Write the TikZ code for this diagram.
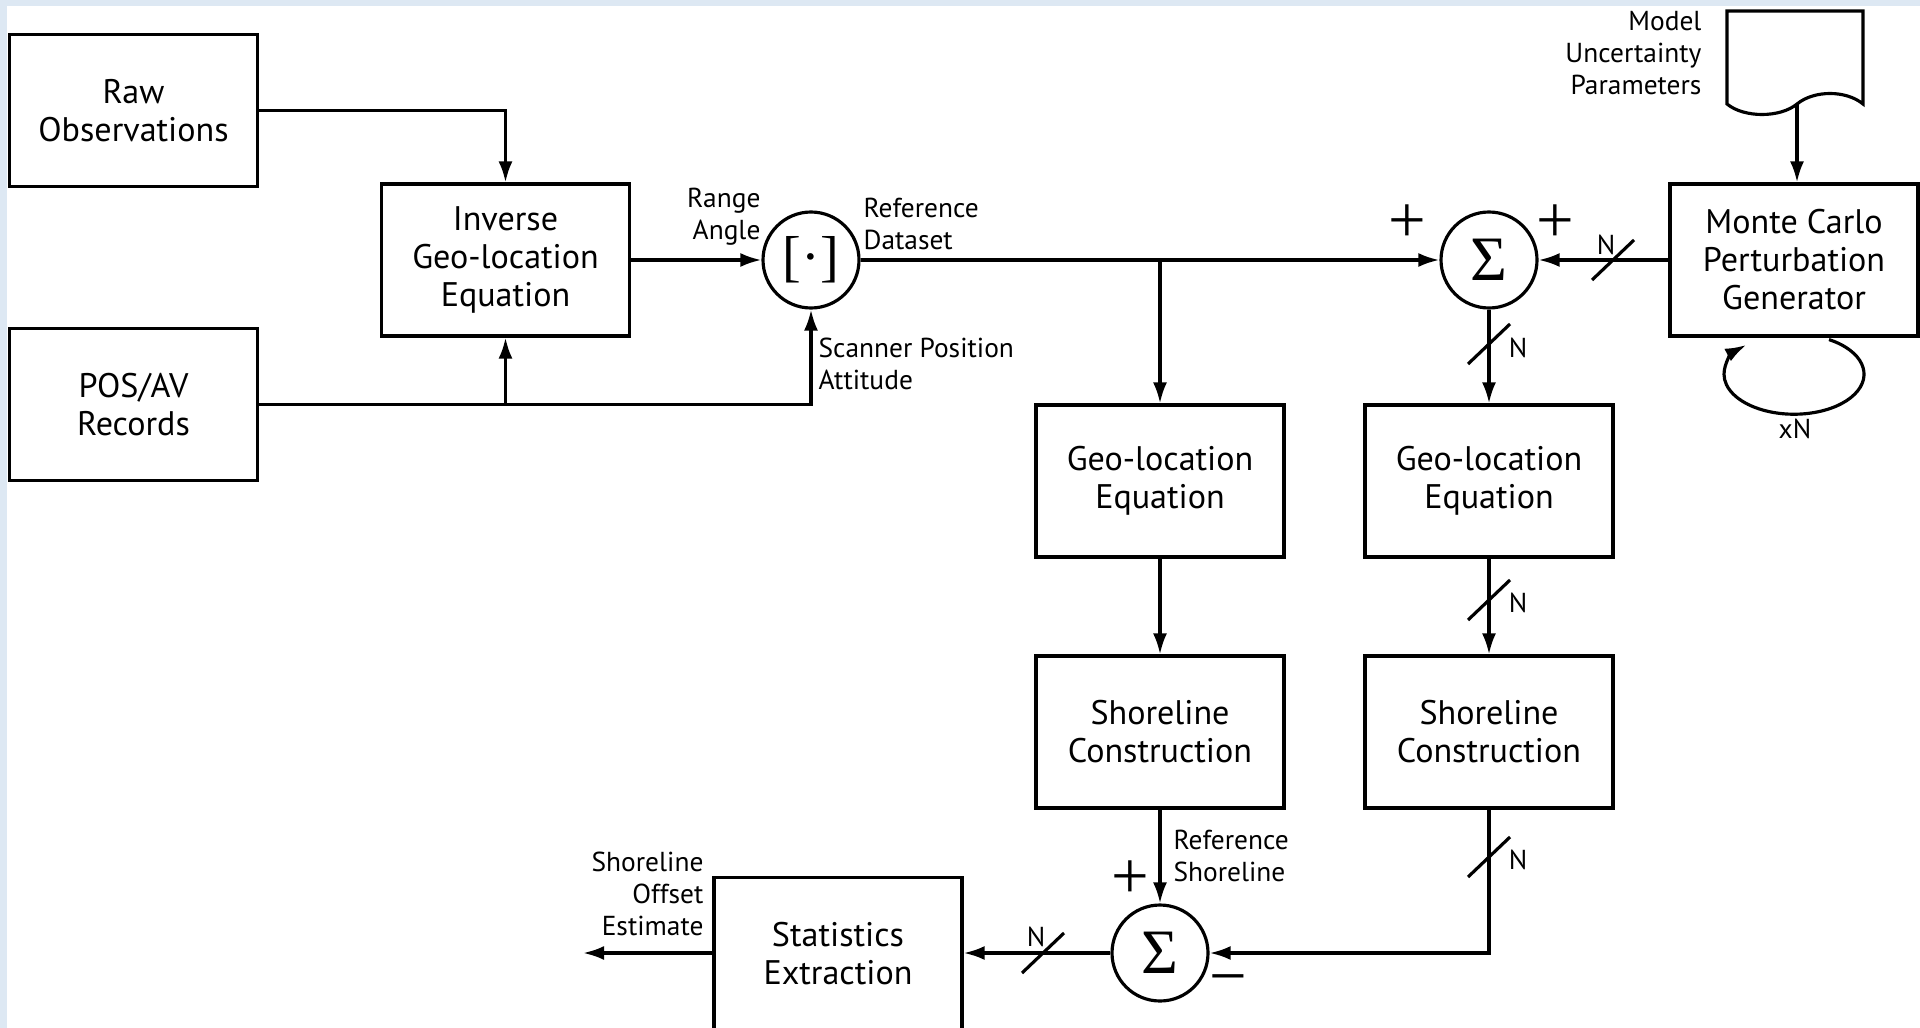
\documentclass[tikz,border=0pt]{standalone}
\usepackage{fontspec}
\setmainfont{PT Sans}
\newfontfamily\symfont{Liberation Serif}
\usetikzlibrary{arrows.meta}
\definecolor{slideblue}{RGB}{221,232,243}
\newcommand{\nmark}[2]{\draw (#1)++(-0.21,-0.2)--++(0.42,0.4); \node[lbl] at ([shift={(#2)}]#1) {N};}
\begin{document}
\begin{tikzpicture}[line width=0.9pt,>={Latex[length=6pt,width=4pt]},
    blk/.style={rectangle,draw,minimum width=2.48cm,minimum height=1.52cm,align=center,font=\fontsize{9.7}{10.8}\selectfont},
    sumnode/.style={circle,draw,minimum size=0.96cm,inner sep=0pt,font=\symfont\fontsize{18}{18}\selectfont},
    lbl/.style={inner sep=0pt,font=\fontsize{7.8}{9.2}\selectfont},
    pm/.style={inner sep=0pt,font=\symfont\fontsize{19}{19}\selectfont}]
  \path[use as bounding box] (0,0) rectangle (19.2,-10.28);
  \clip (0,0) rectangle (19.2,-10.28);
  \fill[slideblue] (0,0) rectangle (19.2,-10.28);
  \fill[white] (0.07,-0.06) rectangle (19.2,-10.28);
  \node[blk] (raw) at (1.335,-1.105) {Raw\\Observations};
  \node[blk] (pos) at (1.335,-4.045) {POS/AV\\Records};
  \node[blk] (inv) at (5.055,-2.6) {Inverse\\Geo-location\\Equation};
  \node[sumnode,font=\symfont\fontsize{16}{16}\selectfont] (brk) at (8.11,-2.6) {[·]};
  \node[sumnode] (sumt) at (14.89,-2.6) {Σ};
  \node[blk] (mc) at (17.94,-2.6) {Monte Carlo\\Perturbation\\Generator};
  \node[blk] (geol) at (11.6,-4.81) {Geo-location\\Equation};
  \node[blk] (geor) at (14.89,-4.81) {Geo-location\\Equation};
  \node[blk] (shl) at (11.6,-7.32) {Shoreline\\Construction};
  \node[blk] (shr) at (14.89,-7.32) {Shoreline\\Construction};
  \node[sumnode] (sumb) at (11.6,-9.53) {Σ};
  \node[blk] (stat) at (8.38,-9.535) {Statistics\\Extraction};
  \draw (17.27,-0.11) -- (17.27,-1.04) .. controls (17.44,-1.18) and (17.80,-1.18) .. (17.97,-1.04)
    .. controls (18.14,-0.90) and (18.46,-0.90) .. (18.63,-1.04) -- (18.63,-0.11) -- cycle;
  \coordinate (mup) at (17.97,-1.04);
  \coordinate (out) at (5.83,-9.53);
  \node[lbl,anchor=east,align=right] (ra) at (7.62,-2.17) {Range\\Angle};
  \node[lbl,anchor=west,align=left] (rd) at (8.62,-2.24) {Reference\\Dataset};
  \node[lbl,anchor=west,align=left] (sp) at (8.17,-3.64) {Scanner Position\\Attitude};
  \node[lbl,anchor=east,align=right] (mp) at (17.03,-0.53) {Model\\Uncertainty\\Parameters};
  \node[lbl] (xn) at (17.95,-4.29) {xN};
  \node[lbl,anchor=west,align=left] (rs) at (11.72,-8.56) {Reference\\Shoreline};
  \node[lbl,anchor=east,align=right] (so) at (7.05,-8.94) {Shoreline\\Offset\\Estimate};
  \node[pm] (p1) at (14.07,-2.24) {+};
  \node[pm] (p2) at (15.55,-2.24) {+};
  \node[pm] (p3) at (11.3,-8.8) {+};
  \node[pm] (m1) at (12.28,-9.87) {−};
  \draw[->] (raw.east) -| (inv.north);
  \draw[->] (pos.east) -| (brk.south);
  \draw[->] (inv.south |- pos.east) -- (inv.south);
  \draw[->] (inv.east) -- (brk.west);
  \draw[->] (brk.east) -- (sumt.west);
  \draw[->] (geol.north |- brk.east) -- (geol.north);
  \draw[->] (mc.west) -- (sumt.east);
  \draw[->] (mup) -- (mup |- mc.north);
  \draw[->] ([shift={(0.35,-0.02)}]mc.south) arc[start angle=60,end angle=-227,x radius=0.7,y radius=0.4];
  \draw[->] (sumt.south) -- (geor.north);
  \draw[->] (geol) -- (shl);
  \draw[->] (geor) -- (shr);
  \draw[->] (shl) -- (sumb);
  \draw[->] (shr.south) |- (sumb.east);
  \draw[->] (sumb.west) -- (sumb.west -| stat.east);
  \draw[->] (stat.west |- sumb.west) -- (out);
  \coordinate (n1) at (16.13,-2.6);
  \coordinate (n2) at (14.89,-3.44);
  \coordinate (n3) at (14.89,-6.0);
  \coordinate (n4) at (14.89,-8.57);
  \coordinate (n5) at (10.43,-9.53);
  \nmark{n1}{-0.07,0.15}
  \nmark{n2}{0.29,-0.04}
  \nmark{n3}{0.29,-0.03}
  \nmark{n4}{0.29,-0.03}
  \nmark{n5}{-0.07,0.16}
\end{tikzpicture}
\end{document}
